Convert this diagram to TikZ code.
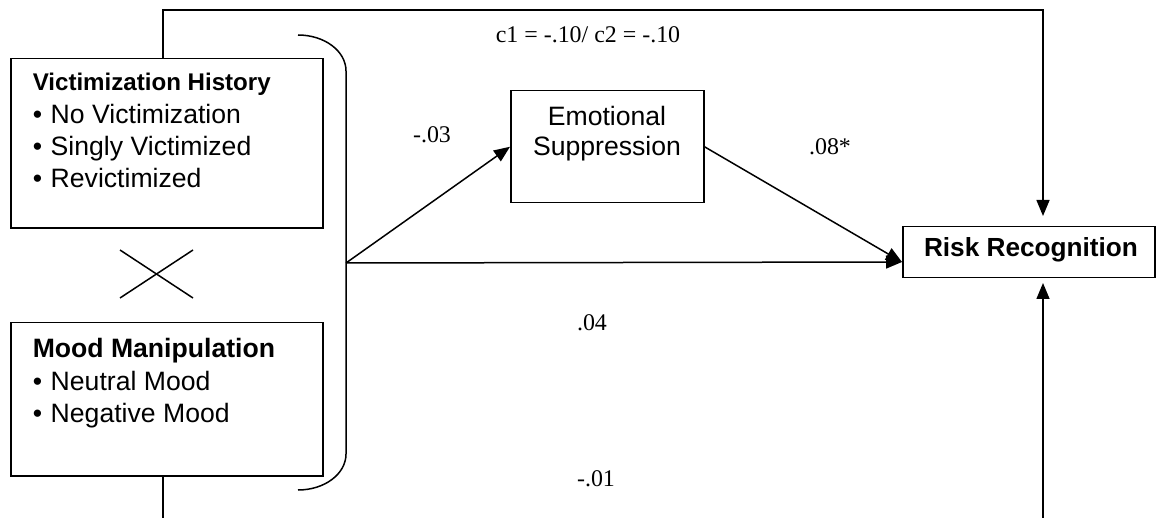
\documentclass[tikz,border=0pt]{standalone}
\usepackage{fontspec}
\setmainfont{Liberation Serif}
\setsansfont{Liberation Sans}
\usetikzlibrary{arrows.meta}
\begin{document}
\begin{tikzpicture}[x=1bp,y=-1bp,
  line width=1.5bp,
  box/.style={draw, rectangle, line width=1.5bp, inner sep=0pt, anchor=north west},
  txt/.style={font=\sffamily\fontsize{26.7}{32}\selectfont, inner sep=0pt, anchor=base west, align=left},
  lbl/.style={font=\rmfamily\fontsize{24}{28}\selectfont, inner sep=0pt, anchor=base},
  arr/.style={-{Triangle[length=16bp,width=13bp]}}]
\useasboundingbox (0,0) rectangle (1156,518);
\newcommand\bul{\makebox[18bp][l]{•}}
% boxes
\node[box, minimum width=312bp, minimum height=169bp] (vic) at (10,58) {};
\node[box, minimum width=312bp, minimum height=153bp] (mood) at (10,322) {};
\node[box, minimum width=193bp, minimum height=112bp] (emo) at (510,90) {};
\node[box, minimum width=252bp, minimum height=51bp] (risk) at (902,226) {};
% box texts
\node[txt, font=\sffamily\bfseries\fontsize{24.2}{32}\selectfont] (vict) at (32,91) {Victimization History};
\node[txt] (vic1) at (32,124) {\bul No Victimization};
\node[txt] (vic2) at (32,156) {\bul Singly Victimized};
\node[txt] (vic3) at (32,188) {\bul Revictimized};
\node[txt, font=\sffamily\bfseries\fontsize{26.7}{32}\selectfont] (moodt) at (32,358) {Mood Manipulation};
\node[txt] (mood1) at (32,390) {\bul Neutral Mood};
\node[txt] (mood2) at (32,422) {\bul Negative Mood};
\node[txt, anchor=base] (emo1) at (607,126) {Emotional};
\node[txt, anchor=base] (emo2) at (607,156) {Suppression};
\node[txt, anchor=base, font=\sffamily\bfseries\fontsize{26.3}{32}\selectfont] (riskt) at (1031,257) {Risk Recognition};
% cross
\draw (120,250) -- (193,298);
\draw (193,250) -- (120,298);
% bracket
\draw (298,35) .. controls (324.5,35) and (346,51) .. (346,71) -- (346,454)
  .. controls (346,474) and (324.5,490) .. (298,490);
% coordinates
\coordinate (hub) at (346,263);
\coordinate (rin) at (902,262);
\coordinate (vtop) at (163,58);
\coordinate (vbot) at (163,475);
\coordinate (rtop) at (1043,216);
\coordinate (rbot) at (1043,283);
\coordinate (topy) at (0,10);
\coordinate (bl) at (163,518);
\coordinate (br) at (1043,518);
% connectors
\draw[arr] (hub) -- (emo.west);
\draw[arr] (emo.east) -- (rin);
\draw[arr] (hub) -- (rin);
\draw[arr] (vtop) -- (vtop |- topy) -- (rtop |- topy) -- (rtop);
\draw (vbot) -- (bl);
\draw[arr] (br) -- (rbot);
% labels
\node[lbl] (c) at (588,43) {c1 = -.10/ c2 = -.10};
\node[lbl] (a) at (432,143) {-.03};
\node[lbl] (b) at (830,155) {.08*};
\node[lbl] (d) at (592,331) {.04};
\node[lbl] (e) at (596,486) {-.01};
\end{tikzpicture}
\end{document}
